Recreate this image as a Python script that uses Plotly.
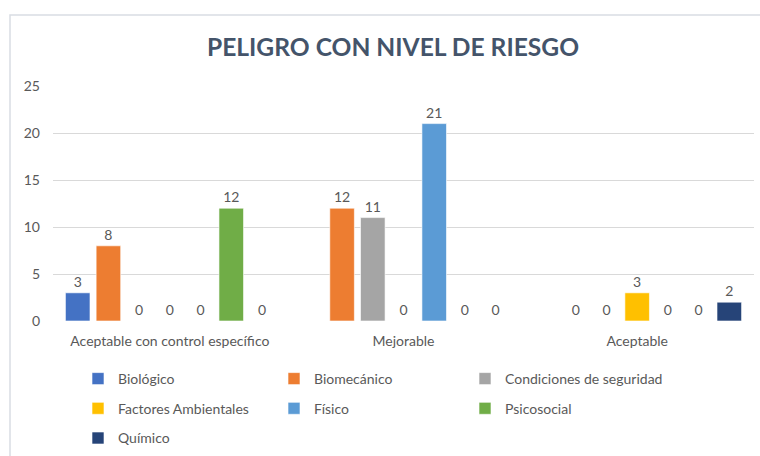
import plotly.graph_objects as go

categories = ["Aceptable con control específico", "Mejorable", "Aceptable"]
series_names = ["Biológico", "Biomecánico", "Condiciones de seguridad",
                "Factores Ambientales", "Físico", "Psicosocial", "Químico"]
biologico = [3, None, None]
biomecanico = [8, 12, 0]
condiciones = [0, 11, 0]
factores = [0, 0, 3]
fisico = [0, 21, 0]
psicosocial = [12, 0, 0]
quimico = [0, 0, 2]
series_values = [biologico, biomecanico, condiciones, factores, fisico, psicosocial, quimico]
colors = ["#4472C4", "#ED7D31", "#A5A5A5", "#FFC000", "#5B9BD5", "#70AD47", "#264478"]
legend_cols = ["legend", "legend2", "legend3", "legend", "legend2", "legend3", "legend"]
y_ticks = [0, 5, 10, 15, 20, 25]

FONT = "Lato"
W, H = 760, 456
L, R, T, B = 53, 6, 86, 135
pw, ph = W - L - R, H - T - B

fig = go.Figure()
for i, (name, vals, col, lg) in enumerate(zip(series_names, series_values, colors, legend_cols)):
    fig.add_trace(go.Bar(
        name=name, x=categories, y=vals, legend=lg, legendgroup=f"g{i}",
        marker=dict(color=col, line=dict(color="rgba(255,255,255,0.6)", width=1)),
        text=[("" if v is None else str(v)) for v in vals],
        textposition="outside", cliponaxis=False,
        textfont=dict(family=FONT, size=14, color="#595959"),
    ))

def px2x(px):
    return (px - L) / pw

def px2y(py):
    return (H - B - py) / ph

def legend_at(left, top):
    return dict(orientation="v", xref="container", yref="container",
                x=left / W, xanchor="left", y=1 - top / H, yanchor="top",
                traceorder="grouped", tracegroupgap=8.5,
                font=dict(family=FONT, size=14, color="#595959"),
                itemwidth=30, bgcolor="rgba(0,0,0,0)")

fig.update_layout(
    width=W, height=H,
    margin=dict(l=L, r=R, t=T, b=B, autoexpand=False),
    paper_bgcolor="white", plot_bgcolor="white",
    barmode="group", bargap=0.08, bargroupgap=0.2,
    title=dict(text="<b>PELIGRO CON NIVEL DE RIESGO</b>", x=393 / W, xanchor="center",
               y=1 - 47 / H, yanchor="middle",
               font=dict(family=FONT, size=24.6, color="#44546A")),
    font=dict(family=FONT, size=14, color="#595959"),
    xaxis=dict(showgrid=False, showline=False, ticks="", ticklabelstandoff=10,
               tickfont=dict(family=FONT, size=14, color="#595959")),
    yaxis=dict(range=[0, 25], tickvals=y_ticks, showgrid=True, gridcolor="#D9D9D9",
               gridwidth=1, zeroline=False, showline=False, ticks="",
               ticklabelstandoff=12,
               tickfont=dict(family=FONT, size=14, color="#595959")),
    legend=legend_at(78, 363),
    legend2=legend_at(274, 363),
    legend3=legend_at(465, 363),
    showlegend=True,
    shapes=[dict(type="path", xref="paper", yref="paper",
                 path=f"M {px2x(10)} {px2y(480)} L {px2x(10)} {px2y(15)} L {px2x(800)} {px2y(15)}",
                 line=dict(color="#D9DDE3", width=1.5), layer="above")],
)

fig.write_html("out.html", config={"displayModeBar": False},
               post_script="document.body.style.margin='0';")
